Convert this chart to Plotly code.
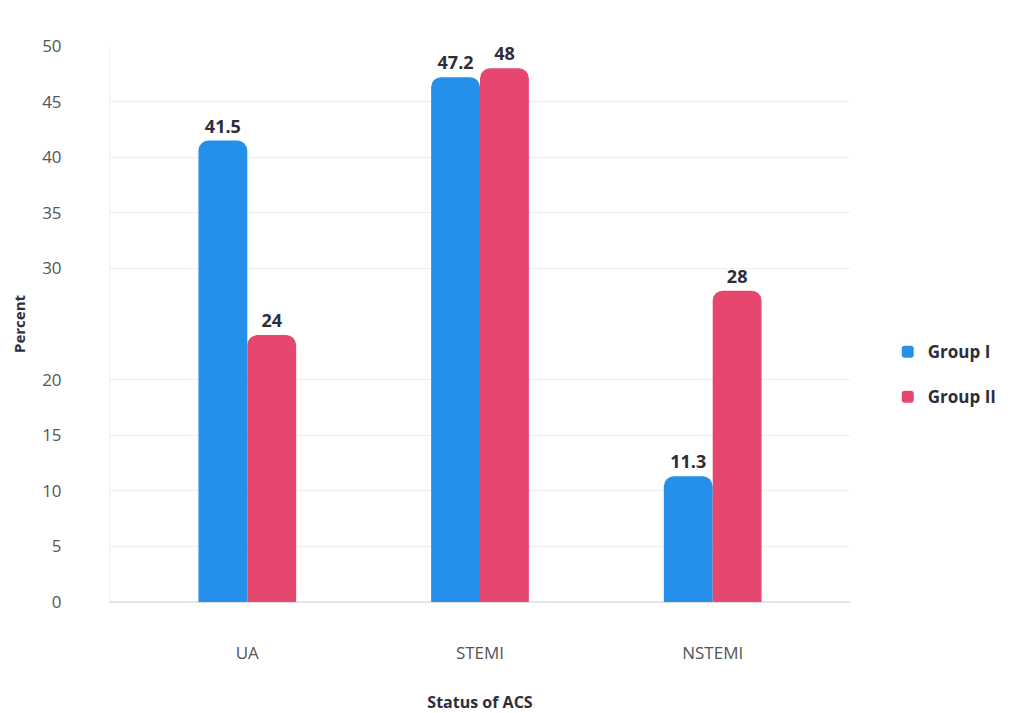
import plotly.graph_objects as go

categories = ["UA", "STEMI", "NSTEMI"]
group1 = [41.5, 47.2, 11.3]
group2 = [24, 48, 28]
group1_labels = ["41.5", "47.2", "11.3"]
group2_labels = ["24", "48", "28"]
y_ticks = [0, 5, 10, 15, 20, 30, 35, 40, 45, 50]

FONT = "Open Sans, Lato, sans-serif"

fig = go.Figure()
fig.add_trace(go.Bar(
    x=categories, y=group1, name="Group I", legendgroup="g1",
    marker=dict(color="#2590ea", line=dict(width=0), cornerradius=10),
    text=group1_labels, textposition="outside", cliponaxis=False,
    textfont=dict(family=FONT, size=18, color="#2e2e3a", weight="bold"),
))
fig.add_trace(go.Bar(
    x=categories, y=group2, name="Group II", legendgroup="g2",
    marker=dict(color="#e6476f", line=dict(width=0), cornerradius=10),
    text=group2_labels, textposition="outside", cliponaxis=False,
    textfont=dict(family=FONT, size=18, color="#2e2e3a", weight="bold"),
))

fig.update_layout(
    width=1003, height=705,
    paper_bgcolor="white", plot_bgcolor="white",
    margin=dict(l=102, r=161, t=38, b=111, autoexpand=False),
    barmode="group", bargap=0.58, bargroupgap=0.0,
    font=dict(family=FONT, color="#555555"),
    showlegend=True,
    legend=dict(x=1.051, y=0.409, xanchor="left", yanchor="middle",
                font=dict(family=FONT, size=17, color="#2e2e3a", weight="bold"),
                tracegroupgap=20, itemwidth=30),
    xaxis=dict(
        range=[-0.59, 2.59], showgrid=False, zeroline=False, automargin=False,
        showline=True, linecolor="#e4e4e4", linewidth=1,
        ticks="", ticklabelstandoff=36,
        tickfont=dict(family=FONT, size=17, color="#555555"),
        title=dict(text="<b>Status of ACS</b>", standoff=36,
                   font=dict(family=FONT, size=16, color="#2e2e3a")),
    ),
    yaxis=dict(
        range=[0, 50], tickvals=y_ticks, ticktext=[str(v) for v in y_ticks],
        showgrid=True, gridcolor="#eeeeee", gridwidth=1, automargin=False,
        zeroline=True, zerolinecolor="#e4e4e4",
        showline=True, linecolor="#f0f0f0", ticks="", ticklabelstandoff=44,
        tickfont=dict(family=FONT, size=17, color="#555555"),
        title=dict(text="<b>Percent</b>", standoff=12,
                   font=dict(family=FONT, size=15, color="#2e2e3a")),
    ),
)

fig.write_html("out.html")
